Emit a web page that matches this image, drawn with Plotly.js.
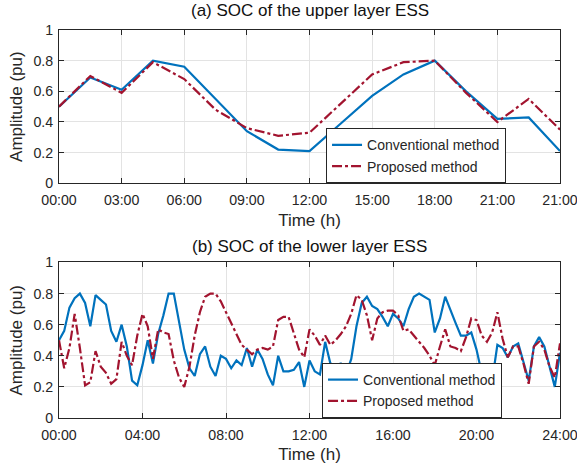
<!DOCTYPE html>
<html>
<head>
<meta charset="utf-8">
<script src="https://cdn.plot.ly/plotly-3.0.1.min.js"></script>
<style>html,body{margin:0;padding:0;background:#fff;}#chart{width:577px;height:469px;}</style>
</head>
<body>
<div id="chart"></div>
<script>
// Upper layer ESS (1.5 h sampling)
const upperTime = [0,1.5,3,4.5,6,7.5,9,10.5,12,13.5,15,16.5,18,19.5,21,22.5,24];
const upperConventional = [0.50,0.69,0.61,0.80,0.76,0.55,0.34,0.22,0.21,0.39,0.57,0.71,0.80,0.60,0.42,0.43,0.21];
const upperProposed = [0.50,0.70,0.59,0.79,0.68,0.48,0.36,0.31,0.33,0.52,0.71,0.79,0.80,0.59,0.40,0.55,0.35];
const upperTickVals = [0,3,6,9,12,15,18,21,24];
const upperTickText = ['00:00','03:00','06:00','09:00','12:00','15:00','18:00','21:00','21:00'];

// Lower layer ESS (15 min sampling)
const lowerTime = [0,0.25,0.5,0.75,1,1.25,1.5,1.75,2,2.25,2.5,2.75,3,3.25,3.5,3.75,4,4.25,4.5,4.75,5,5.25,5.5,5.75,6,6.25,6.5,6.75,7,7.25,7.5,7.75,8,8.25,8.5,8.75,9,9.25,9.5,9.75,10,10.25,10.5,10.75,11,11.25,11.5,11.75,12,12.25,12.5,12.75,13,13.25,13.5,13.75,14,14.25,14.5,14.75,15,15.25,15.5,15.75,16,16.25,16.5,16.75,17,17.25,17.5,17.75,18,18.25,18.5,18.75,19,19.25,19.5,19.75,20,20.25,20.5,20.75,21,21.25,21.5,21.75,22,22.25,22.5,22.75,23,23.25,23.5,23.75,24];
const lowerConventional = [0.50,0.56,0.71,0.77,0.80,0.74,0.59,0.79,0.76,0.73,0.56,0.49,0.60,0.46,0.24,0.21,0.34,0.50,0.35,0.54,0.66,0.80,0.80,0.62,0.44,0.32,0.27,0.41,0.46,0.33,0.27,0.40,0.38,0.32,0.37,0.34,0.45,0.33,0.44,0.38,0.28,0.21,0.40,0.30,0.30,0.31,0.36,0.20,0.37,0.30,0.28,0.49,0.35,0.34,0.35,0.28,0.38,0.59,0.74,0.78,0.72,0.70,0.65,0.59,0.67,0.64,0.59,0.70,0.78,0.80,0.78,0.76,0.55,0.64,0.78,0.69,0.61,0.53,0.53,0.55,0.44,0.29,0.20,0.24,0.47,0.45,0.39,0.46,0.48,0.36,0.24,0.46,0.52,0.46,0.33,0.20,0.42];
const lowerProposed = [0.50,0.32,0.45,0.67,0.45,0.21,0.23,0.43,0.33,0.29,0.22,0.25,0.49,0.40,0.34,0.53,0.67,0.59,0.38,0.57,0.55,0.54,0.37,0.26,0.20,0.33,0.53,0.68,0.78,0.80,0.80,0.75,0.68,0.61,0.54,0.47,0.44,0.41,0.44,0.45,0.44,0.46,0.63,0.65,0.65,0.54,0.44,0.39,0.57,0.53,0.47,0.53,0.47,0.50,0.54,0.59,0.67,0.79,0.76,0.66,0.50,0.64,0.68,0.69,0.69,0.66,0.56,0.57,0.53,0.49,0.45,0.40,0.34,0.46,0.57,0.46,0.45,0.43,0.52,0.64,0.63,0.53,0.49,0.55,0.68,0.51,0.39,0.46,0.46,0.35,0.22,0.46,0.49,0.44,0.33,0.26,0.48];
const lowerTickVals = [0,4,8,12,16,20,24];
const lowerTickText = ['00:00','04:00','08:00','12:00','16:00','20:00','24:00'];

const seriesNames = ['Conventional method','Proposed method'];
const blue = '#0072BD', red = '#A2142F';
const FONT = 'Liberation Sans, Arial, sans-serif';
const ink = '#262626';
const dashDot = '10px,3px,3px,3px';

const traces = [
  {x: upperTime, y: upperConventional, name: seriesNames[0], mode:'lines', line:{color:blue,width:2.2}, xaxis:'x', yaxis:'y', legend:'legend'},
  {x: upperTime, y: upperProposed, name: seriesNames[1], mode:'lines', line:{color:red,width:2.2,dash:dashDot}, xaxis:'x', yaxis:'y', legend:'legend'},
  {x: lowerTime, y: lowerConventional, name: seriesNames[0], mode:'lines', line:{color:blue,width:2.2}, xaxis:'x2', yaxis:'y2', legend:'legend2'},
  {x: lowerTime, y: lowerProposed, name: seriesNames[1], mode:'lines', line:{color:red,width:2.2,dash:dashDot}, xaxis:'x2', yaxis:'y2', legend:'legend2'}
];

function xax(vals, text, anchor){
  return {range:[0,24], tickvals:vals, ticktext:text, anchor:anchor, showline:true, linecolor:ink, linewidth:1, mirror:'ticks',
    ticks:'inside', ticklen:5, tickcolor:ink, showgrid:true, gridcolor:'#e3e3e3', zeroline:false, ticklabelstandoff:4,
    ticklabeloverflow:'allow',
    tickfont:{family:FONT,size:14.2,color:ink}, title:{text:'Time (h)', font:{family:FONT,size:17,color:ink}, standoff:6}};
}
function yax(domain, anchor){
  return {range:[0,1], dtick:0.2, tick0:0, domain:domain, anchor:anchor, showline:true, linecolor:ink, linewidth:1, mirror:'ticks',
    ticks:'inside', ticklen:5, tickcolor:ink, showgrid:true, gridcolor:'#e3e3e3', zeroline:false, ticklabelstandoff:2,
    tickfont:{family:FONT,size:14.2,color:ink}, title:{text:'Amplitude (pu)', font:{family:FONT,size:17,color:ink}, standoff:6}};
}

const legendStyle = {bgcolor:'#ffffff', bordercolor:ink, borderwidth:1, font:{family:FONT,size:14,color:ink}, xanchor:'left', yanchor:'bottom', tracegroupgap:0, entrywidth:158};

const layout = {
  width:577, height:469,
  margin:{l:59, r:17, t:30, b:51},
  paper_bgcolor:'#ffffff', plot_bgcolor:'#ffffff',
  showlegend:true,
  xaxis: Object.assign(xax(upperTickVals, upperTickText, 'y'), {domain:[0,1]}),
  yaxis: yax([0.6049,1], 'x'),
  xaxis2: Object.assign(xax(lowerTickVals, lowerTickText, 'y2'), {domain:[0,1]}),
  yaxis2: yax([0,0.4008], 'x2'),
  legend: Object.assign({}, legendStyle, {x:0.533, y:0.6049}),
  legend2: Object.assign({}, legendStyle, {x:0.525, y:0}),
  annotations:[
    {text:'(a) SOC of the upper layer ESS', xref:'paper', yref:'paper', x:0.5, y:1, yshift:8, xanchor:'center', yanchor:'bottom', showarrow:false, font:{family:FONT,size:17,color:'#111'}},
    {text:'(b) SOC of the lower layer ESS', xref:'paper', yref:'paper', x:0.5, y:0.4008, yshift:4, xanchor:'center', yanchor:'bottom', showarrow:false, font:{family:FONT,size:17,color:'#111'}}
  ]
};

Plotly.newPlot('chart', traces, layout, {displayModeBar:false, staticPlot:true});
</script>
</body>
</html>
